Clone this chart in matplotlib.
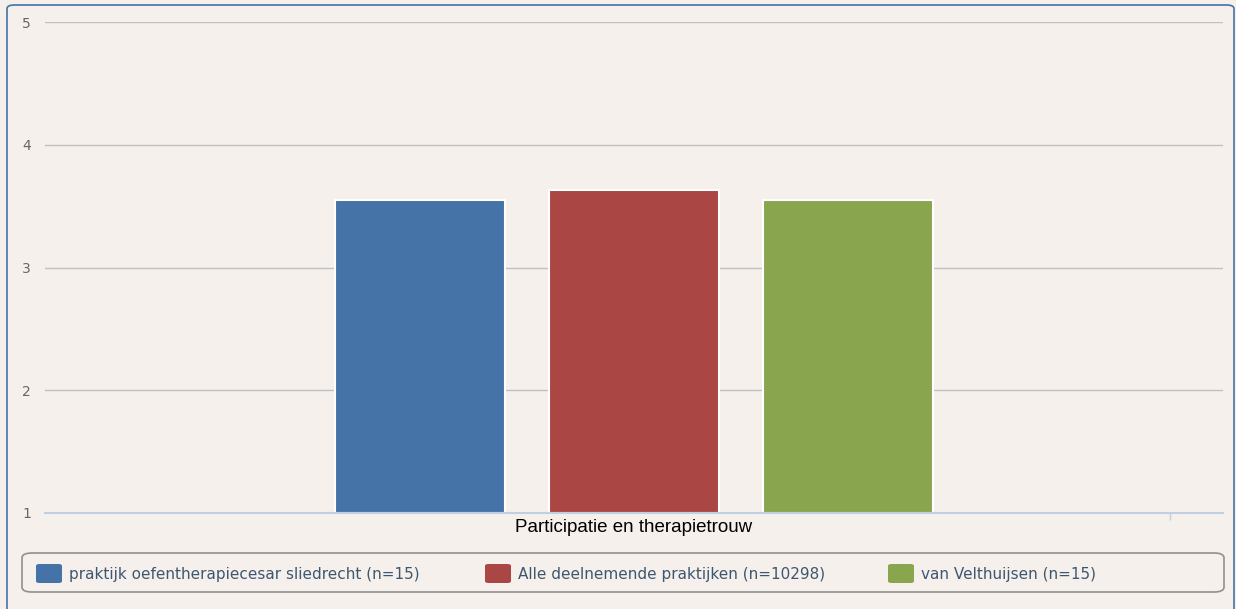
import matplotlib
matplotlib.use('Agg')
import matplotlib.pyplot as plt
from matplotlib.patches import FancyBboxPatch

# data
category = 'Participatie en therapietrouw'
series_names = ['praktijk oefentherapiecesar sliedrecht (n=15)',
                'Alle deelnemende praktijken (n=10298)',
                'van Velthuijsen (n=15)']
series_values = [3.55, 3.63, 3.55]
series_colors = ['#4572a7', '#aa4643', '#89a54e']
y_ticks = [1, 2, 3, 4, 5]

W, H = 1236, 609
bg = '#f5f0ec'
fig = plt.figure(figsize=(W / 100, H / 100), dpi=100, facecolor=bg)

# outer chart border (rounded, blue), bottom edge falls outside the picture
fig.patches.append(FancyBboxPatch((7 / W, -20 / H), (1234 - 7) / W, (H - 5 + 20) / H,
                                  boxstyle='round,pad=0,rounding_size=0.006',
                                  transform=fig.transFigure, facecolor='none',
                                  edgecolor='#4572a7', linewidth=1.2))

ax = fig.add_axes([45 / W, 1 - 513 / H, 1178 / W, (513 - 22) / H])
ax.set_facecolor(bg)
ax.set_xlim(-0.5, 0.5)
ax.set_ylim(1, 5)

offset = 214 / 1178
width = 170 / 1178
for i, (v, c) in enumerate(zip(series_values, series_colors)):
    ax.bar((i - 1) * offset, v - 1, bottom=1, width=width, color=c,
           edgecolor='white', linewidth=1.5, zorder=3)

ax.set_yticks(y_ticks)
ax.set_yticklabels([str(t) for t in y_ticks], color='#666666', fontsize=10)
ax.yaxis.grid(True, color='#c0c0c0', linewidth=1, zorder=0)
ax.tick_params(axis='y', length=0, pad=10)

ax.set_xticks([0.455])
ax.set_xticklabels([''])
ax.tick_params(axis='x', length=5, color='#c0d0e0', width=1)
for s in ['top', 'right', 'left']:
    ax.spines[s].set_visible(False)
ax.spines['bottom'].set_color('#c0d0e0')
ax.spines['bottom'].set_linewidth(1.5)
ax.spines['bottom'].set_zorder(4)

fig.text(634 / W, 1 - 527 / H, category, ha='center', va='center',
         fontsize=13.5, family='Liberation Sans', color='black')

# legend box
fig.patches.append(FancyBboxPatch((22 / W, 1 - 592 / H), (1224 - 22) / W, (592 - 553) / H,
                                  boxstyle='round,pad=0,rounding_size=0.008',
                                  transform=fig.transFigure, facecolor='none',
                                  edgecolor='#909090', linewidth=1.2))
patch_x = [36, 485, 888]
for px, name, c in zip(patch_x, series_names, series_colors):
    fig.patches.append(FancyBboxPatch((px / W, 1 - 583 / H), 26 / W, 19 / H,
                                      boxstyle='round,pad=0,rounding_size=0.003',
                                      transform=fig.transFigure, facecolor=c,
                                      edgecolor='none'))
    fig.text((px + 33) / W, 1 - 575 / H, name, ha='left', va='center',
             fontsize=11, color='#3e576f')

fig.savefig('out.png', dpi=100, facecolor=bg)
